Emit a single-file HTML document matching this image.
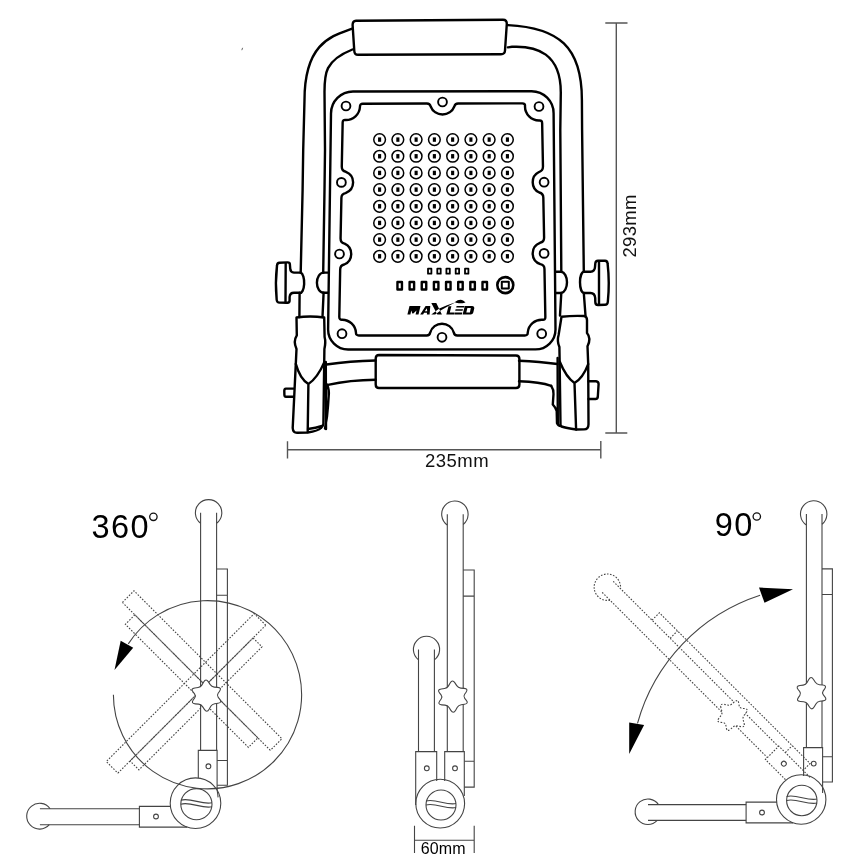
<!DOCTYPE html>
<html><head><meta charset="utf-8"><style>html,body{margin:0;padding:0;background:#fff;width:868px;height:868px;overflow:hidden}svg{display:block;will-change:transform}</style></head>
<body><svg width="868" height="868" viewBox="0 0 868 868"><g fill="none" stroke="#000" stroke-width="2.4" stroke-linecap="round" stroke-linejoin="round"><path d="M356 20.8 L503 19.8 Q507 19.8 506.8 24 L505 50.5 Q504.8 54.2 501 54.2 L358 54.8 Q354.5 54.8 354.3 51 L352.6 25 Q352.6 21 356 20.8 Z"/><path d="M351.5 28.8 C332.5 35.8 304.5 42.3 304.5 100 L303.2 150 L302.6 190 L300.7 272.6"/><path d="M300.7 272.6 A4 10.1 0 0 1 299.6 292.8 L299.4 317"/><path d="M507.9 25.1 C558.4 27.6 581.9 46.6 581.9 100 L582.1 130 L583.8 271.7"/><path d="M583.8 271.7 A4.2 10.7 0 0 0 583.8 293 L585.5 315.5"/><path d="M352.4 49.5 C324.6 60.6 324.5 74 324.5 91.9 L325 150 L324.5 190 L323.2 272.6"/><path d="M323.6 272.6 A6.7 10.1 0 0 0 323.6 292.8 L322.5 317"/><path d="M323.2 272.6 L328 272.6 M323.2 292.8 L328 292.8"/><path d="M507.9 47.4 L512 46.8 C536.9 45.6 560.8 53.7 560.8 92.4 L560.3 130 L561.3 271.7"/><path d="M561.3 271.7 A6.3 10.7 0 0 1 561.3 293 L560 315.5"/><path d="M561.3 271.7 L555.8 271.7 M561.3 293 L555.8 293"/><path d="M353 91.5 L531.6 91.2 A22 22 0 0 1 553.6 113.2 L555.5 329.4 A20 20 0 0 1 535.5 349.4 L348.1 349.5 A20 20 0 0 1 328.1 329.5 L331 113.5 A22 22 0 0 1 353 91.5 Z"/><path d="M362.82 103.76 L426.92 103.55 Q429.92 103.55 430.68 106.45 A12.70 12.70 0 0 0 454.32 106.45 Q455.08 103.55 458.08 103.55 L522.36 103.34 Q525.36 103.34 525.00 106.32 A14.00 14.00 0 0 0 539.18 120.50 Q542.15 120.14 542.15 123.14 L542.97 166.64 Q542.97 170.84 538.96 172.03 A11.40 11.40 0 0 0 539.28 192.53 Q543.33 193.56 543.33 197.76 L544.10 237.80 Q544.10 242.00 540.00 242.76 A11.40 11.40 0 0 0 540.34 264.16 Q544.47 264.80 544.47 269.00 L545.35 317.18 Q545.35 320.18 542.39 319.72 A14.00 14.00 0 0 0 527.75 332.51 Q527.82 335.50 524.82 335.50 L457.29 335.50 Q454.29 335.50 453.81 332.55 A12.30 12.30 0 0 0 430.19 332.55 Q429.71 335.50 426.71 335.50 L358.88 335.50 Q355.88 335.50 355.95 332.51 A14.00 14.00 0 0 0 342.27 319.70 Q339.29 319.97 339.29 316.97 L340.18 269.59 Q340.18 265.39 344.26 264.49 A11.40 11.40 0 0 0 344.61 243.66 Q340.57 242.61 340.57 238.41 L341.40 198.00 Q341.40 193.80 345.52 193.14 A11.40 11.40 0 0 0 345.88 171.80 Q341.78 171.00 341.78 166.80 L342.66 122.59 Q342.66 119.59 345.62 119.99 A14.00 14.00 0 0 0 359.98 106.75 Q359.82 103.76 362.82 103.76 Z"/><circle cx="346" cy="106" r="4.4" stroke-width="1.9"/><circle cx="442.5" cy="102" r="4.4" stroke-width="1.9"/><circle cx="539" cy="106.5" r="4.4" stroke-width="1.9"/><circle cx="341.4" cy="182.4" r="4.4" stroke-width="1.9"/><circle cx="544.1" cy="182.2" r="4.4" stroke-width="1.9"/><circle cx="339.5" cy="254" r="4.4" stroke-width="1.9"/><circle cx="544.1" cy="253.4" r="4.4" stroke-width="1.9"/><circle cx="342" cy="333.7" r="4.4" stroke-width="1.9"/><circle cx="442" cy="337.3" r="4.4" stroke-width="1.9"/><circle cx="541.7" cy="333.7" r="4.4" stroke-width="1.9"/><circle cx="379.60" cy="139.60" r="5.85" stroke-width="1.5"/><rect x="378.05" y="137.40" width="3.1" height="4.4" fill="#000" stroke="none"/><circle cx="397.86" cy="139.60" r="5.85" stroke-width="1.5"/><rect x="396.31" y="137.40" width="3.1" height="4.4" fill="#000" stroke="none"/><circle cx="416.12" cy="139.60" r="5.85" stroke-width="1.5"/><rect x="414.57" y="137.40" width="3.1" height="4.4" fill="#000" stroke="none"/><circle cx="434.38" cy="139.60" r="5.85" stroke-width="1.5"/><rect x="432.83" y="137.40" width="3.1" height="4.4" fill="#000" stroke="none"/><circle cx="452.64" cy="139.60" r="5.85" stroke-width="1.5"/><rect x="451.09" y="137.40" width="3.1" height="4.4" fill="#000" stroke="none"/><circle cx="470.90" cy="139.60" r="5.85" stroke-width="1.5"/><rect x="469.35" y="137.40" width="3.1" height="4.4" fill="#000" stroke="none"/><circle cx="489.16" cy="139.60" r="5.85" stroke-width="1.5"/><rect x="487.61" y="137.40" width="3.1" height="4.4" fill="#000" stroke="none"/><circle cx="507.42" cy="139.60" r="5.85" stroke-width="1.5"/><rect x="505.87" y="137.40" width="3.1" height="4.4" fill="#000" stroke="none"/><circle cx="379.60" cy="156.27" r="5.85" stroke-width="1.5"/><rect x="378.05" y="154.07" width="3.1" height="4.4" fill="#000" stroke="none"/><circle cx="397.86" cy="156.27" r="5.85" stroke-width="1.5"/><rect x="396.31" y="154.07" width="3.1" height="4.4" fill="#000" stroke="none"/><circle cx="416.12" cy="156.27" r="5.85" stroke-width="1.5"/><rect x="414.57" y="154.07" width="3.1" height="4.4" fill="#000" stroke="none"/><circle cx="434.38" cy="156.27" r="5.85" stroke-width="1.5"/><rect x="432.83" y="154.07" width="3.1" height="4.4" fill="#000" stroke="none"/><circle cx="452.64" cy="156.27" r="5.85" stroke-width="1.5"/><rect x="451.09" y="154.07" width="3.1" height="4.4" fill="#000" stroke="none"/><circle cx="470.90" cy="156.27" r="5.85" stroke-width="1.5"/><rect x="469.35" y="154.07" width="3.1" height="4.4" fill="#000" stroke="none"/><circle cx="489.16" cy="156.27" r="5.85" stroke-width="1.5"/><rect x="487.61" y="154.07" width="3.1" height="4.4" fill="#000" stroke="none"/><circle cx="507.42" cy="156.27" r="5.85" stroke-width="1.5"/><rect x="505.87" y="154.07" width="3.1" height="4.4" fill="#000" stroke="none"/><circle cx="379.60" cy="172.94" r="5.85" stroke-width="1.5"/><rect x="378.05" y="170.74" width="3.1" height="4.4" fill="#000" stroke="none"/><circle cx="397.86" cy="172.94" r="5.85" stroke-width="1.5"/><rect x="396.31" y="170.74" width="3.1" height="4.4" fill="#000" stroke="none"/><circle cx="416.12" cy="172.94" r="5.85" stroke-width="1.5"/><rect x="414.57" y="170.74" width="3.1" height="4.4" fill="#000" stroke="none"/><circle cx="434.38" cy="172.94" r="5.85" stroke-width="1.5"/><rect x="432.83" y="170.74" width="3.1" height="4.4" fill="#000" stroke="none"/><circle cx="452.64" cy="172.94" r="5.85" stroke-width="1.5"/><rect x="451.09" y="170.74" width="3.1" height="4.4" fill="#000" stroke="none"/><circle cx="470.90" cy="172.94" r="5.85" stroke-width="1.5"/><rect x="469.35" y="170.74" width="3.1" height="4.4" fill="#000" stroke="none"/><circle cx="489.16" cy="172.94" r="5.85" stroke-width="1.5"/><rect x="487.61" y="170.74" width="3.1" height="4.4" fill="#000" stroke="none"/><circle cx="507.42" cy="172.94" r="5.85" stroke-width="1.5"/><rect x="505.87" y="170.74" width="3.1" height="4.4" fill="#000" stroke="none"/><circle cx="379.60" cy="189.61" r="5.85" stroke-width="1.5"/><rect x="378.05" y="187.41" width="3.1" height="4.4" fill="#000" stroke="none"/><circle cx="397.86" cy="189.61" r="5.85" stroke-width="1.5"/><rect x="396.31" y="187.41" width="3.1" height="4.4" fill="#000" stroke="none"/><circle cx="416.12" cy="189.61" r="5.85" stroke-width="1.5"/><rect x="414.57" y="187.41" width="3.1" height="4.4" fill="#000" stroke="none"/><circle cx="434.38" cy="189.61" r="5.85" stroke-width="1.5"/><rect x="432.83" y="187.41" width="3.1" height="4.4" fill="#000" stroke="none"/><circle cx="452.64" cy="189.61" r="5.85" stroke-width="1.5"/><rect x="451.09" y="187.41" width="3.1" height="4.4" fill="#000" stroke="none"/><circle cx="470.90" cy="189.61" r="5.85" stroke-width="1.5"/><rect x="469.35" y="187.41" width="3.1" height="4.4" fill="#000" stroke="none"/><circle cx="489.16" cy="189.61" r="5.85" stroke-width="1.5"/><rect x="487.61" y="187.41" width="3.1" height="4.4" fill="#000" stroke="none"/><circle cx="507.42" cy="189.61" r="5.85" stroke-width="1.5"/><rect x="505.87" y="187.41" width="3.1" height="4.4" fill="#000" stroke="none"/><circle cx="379.60" cy="206.28" r="5.85" stroke-width="1.5"/><rect x="378.05" y="204.08" width="3.1" height="4.4" fill="#000" stroke="none"/><circle cx="397.86" cy="206.28" r="5.85" stroke-width="1.5"/><rect x="396.31" y="204.08" width="3.1" height="4.4" fill="#000" stroke="none"/><circle cx="416.12" cy="206.28" r="5.85" stroke-width="1.5"/><rect x="414.57" y="204.08" width="3.1" height="4.4" fill="#000" stroke="none"/><circle cx="434.38" cy="206.28" r="5.85" stroke-width="1.5"/><rect x="432.83" y="204.08" width="3.1" height="4.4" fill="#000" stroke="none"/><circle cx="452.64" cy="206.28" r="5.85" stroke-width="1.5"/><rect x="451.09" y="204.08" width="3.1" height="4.4" fill="#000" stroke="none"/><circle cx="470.90" cy="206.28" r="5.85" stroke-width="1.5"/><rect x="469.35" y="204.08" width="3.1" height="4.4" fill="#000" stroke="none"/><circle cx="489.16" cy="206.28" r="5.85" stroke-width="1.5"/><rect x="487.61" y="204.08" width="3.1" height="4.4" fill="#000" stroke="none"/><circle cx="507.42" cy="206.28" r="5.85" stroke-width="1.5"/><rect x="505.87" y="204.08" width="3.1" height="4.4" fill="#000" stroke="none"/><circle cx="379.60" cy="222.95" r="5.85" stroke-width="1.5"/><rect x="378.05" y="220.75" width="3.1" height="4.4" fill="#000" stroke="none"/><circle cx="397.86" cy="222.95" r="5.85" stroke-width="1.5"/><rect x="396.31" y="220.75" width="3.1" height="4.4" fill="#000" stroke="none"/><circle cx="416.12" cy="222.95" r="5.85" stroke-width="1.5"/><rect x="414.57" y="220.75" width="3.1" height="4.4" fill="#000" stroke="none"/><circle cx="434.38" cy="222.95" r="5.85" stroke-width="1.5"/><rect x="432.83" y="220.75" width="3.1" height="4.4" fill="#000" stroke="none"/><circle cx="452.64" cy="222.95" r="5.85" stroke-width="1.5"/><rect x="451.09" y="220.75" width="3.1" height="4.4" fill="#000" stroke="none"/><circle cx="470.90" cy="222.95" r="5.85" stroke-width="1.5"/><rect x="469.35" y="220.75" width="3.1" height="4.4" fill="#000" stroke="none"/><circle cx="489.16" cy="222.95" r="5.85" stroke-width="1.5"/><rect x="487.61" y="220.75" width="3.1" height="4.4" fill="#000" stroke="none"/><circle cx="507.42" cy="222.95" r="5.85" stroke-width="1.5"/><rect x="505.87" y="220.75" width="3.1" height="4.4" fill="#000" stroke="none"/><circle cx="379.60" cy="239.62" r="5.85" stroke-width="1.5"/><rect x="378.05" y="237.42" width="3.1" height="4.4" fill="#000" stroke="none"/><circle cx="397.86" cy="239.62" r="5.85" stroke-width="1.5"/><rect x="396.31" y="237.42" width="3.1" height="4.4" fill="#000" stroke="none"/><circle cx="416.12" cy="239.62" r="5.85" stroke-width="1.5"/><rect x="414.57" y="237.42" width="3.1" height="4.4" fill="#000" stroke="none"/><circle cx="434.38" cy="239.62" r="5.85" stroke-width="1.5"/><rect x="432.83" y="237.42" width="3.1" height="4.4" fill="#000" stroke="none"/><circle cx="452.64" cy="239.62" r="5.85" stroke-width="1.5"/><rect x="451.09" y="237.42" width="3.1" height="4.4" fill="#000" stroke="none"/><circle cx="470.90" cy="239.62" r="5.85" stroke-width="1.5"/><rect x="469.35" y="237.42" width="3.1" height="4.4" fill="#000" stroke="none"/><circle cx="489.16" cy="239.62" r="5.85" stroke-width="1.5"/><rect x="487.61" y="237.42" width="3.1" height="4.4" fill="#000" stroke="none"/><circle cx="507.42" cy="239.62" r="5.85" stroke-width="1.5"/><rect x="505.87" y="237.42" width="3.1" height="4.4" fill="#000" stroke="none"/><circle cx="379.60" cy="256.29" r="5.85" stroke-width="1.5"/><rect x="378.05" y="254.09" width="3.1" height="4.4" fill="#000" stroke="none"/><circle cx="397.86" cy="256.29" r="5.85" stroke-width="1.5"/><rect x="396.31" y="254.09" width="3.1" height="4.4" fill="#000" stroke="none"/><circle cx="416.12" cy="256.29" r="5.85" stroke-width="1.5"/><rect x="414.57" y="254.09" width="3.1" height="4.4" fill="#000" stroke="none"/><circle cx="434.38" cy="256.29" r="5.85" stroke-width="1.5"/><rect x="432.83" y="254.09" width="3.1" height="4.4" fill="#000" stroke="none"/><circle cx="452.64" cy="256.29" r="5.85" stroke-width="1.5"/><rect x="451.09" y="254.09" width="3.1" height="4.4" fill="#000" stroke="none"/><circle cx="470.90" cy="256.29" r="5.85" stroke-width="1.5"/><rect x="469.35" y="254.09" width="3.1" height="4.4" fill="#000" stroke="none"/><circle cx="489.16" cy="256.29" r="5.85" stroke-width="1.5"/><rect x="487.61" y="254.09" width="3.1" height="4.4" fill="#000" stroke="none"/><circle cx="507.42" cy="256.29" r="5.85" stroke-width="1.5"/><rect x="505.87" y="254.09" width="3.1" height="4.4" fill="#000" stroke="none"/><rect x="428.00" y="268.7" width="3.4" height="5.0" stroke-width="1.8"/><rect x="437.30" y="268.7" width="3.4" height="5.0" stroke-width="1.8"/><rect x="446.40" y="268.7" width="3.4" height="5.0" stroke-width="1.8"/><rect x="455.70" y="268.7" width="3.4" height="5.0" stroke-width="1.8"/><rect x="465.00" y="268.7" width="3.4" height="5.0" stroke-width="1.8"/><rect x="397.45" y="281.95" width="4.5" height="7.5" stroke-width="2.4"/><rect x="409.60" y="281.95" width="4.5" height="7.5" stroke-width="2.4"/><rect x="421.75" y="281.95" width="4.5" height="7.5" stroke-width="2.4"/><rect x="433.90" y="281.95" width="4.5" height="7.5" stroke-width="2.4"/><rect x="446.05" y="281.95" width="4.5" height="7.5" stroke-width="2.4"/><rect x="458.20" y="281.95" width="4.5" height="7.5" stroke-width="2.4"/><rect x="470.35" y="281.95" width="4.5" height="7.5" stroke-width="2.4"/><rect x="482.50" y="281.95" width="4.5" height="7.5" stroke-width="2.4"/><circle cx="505.3" cy="285.1" r="8.0" stroke-width="2.6"/><rect x="501.8" y="281.8" width="7.0" height="6.7" stroke-width="2.0"/><path d="M296.5 317.5 Q310 315.5 324.2 317.5 L324.6 337 Q326 342 324.4 349 L324.2 363 L323.4 423.8 Q323.4 426 321 428 Q318 431 307.7 432.5 L297 432.8 Q293 432.8 292.7 428 L295.8 363.9 L296.5 348.9 Q293 341.4 296.8 335.4 Z"/><path d="M325.8 362 L326 429 M327 384.5 Q329.5 390 328.7 396 L328 406 Q327.5 416 325 428.5 M308 429 Q316 428 322 426"/><path d="M295.8 363.9 Q300 379 308.4 384 Q317.5 378 324.2 362.4 M308.4 384 L307.7 432"/><path d="M293.5 388.6 L286 388.6 Q284.2 388.8 284.3 391 L284.4 395 Q284.5 396.8 286 396.8 L293.5 396.8"/><path d="M561.5 316.7 Q573 315.5 584 316 Q587 316.5 587 320 L587 333 Q591.5 338.4 587.5 346.2 L588.2 364 L588.5 424.3 Q588.5 429.4 584 429.4 L576.1 429.5 Q566 428 561.5 426.5 Q560.5 425.5 560.5 424.7 L559.6 357.9 L559.4 347 Q556.8 341 558.6 335 Z"/><path d="M557.6 358 L557.8 424 M551.2 385.8 Q554 390 553.5 394 L552.8 404.5 Q556 408 556.7 411 L557 423.1 Q558 426 561 426"/><path d="M559.8 361.7 Q566 377 574.5 383 Q583 378 588.2 364.1 M574.5 383 L576.1 429.5"/><path d="M588.5 381.2 L596 381.2 Q598.6 381.5 598.6 384 L597.8 397 Q597.5 399 595.5 399 L588.5 399"/><path d="M326.5 364.5 Q350 361 375.6 360.5 M327.9 384.9 Q350 380 375.6 379.8"/><path d="M519 360.7 Q540 361.5 557.4 364 M519 381.3 Q540 382 551.2 385.8"/><path d="M379 355 L516 355.5 Q519.4 355.5 519.4 359 L519.4 384.5 Q519.4 388 516 388 L379 388 Q375.7 388 375.7 384.5 L375.7 358.5 Q375.7 355 379 355 Z"/><path d="M300.7 272.6 L294 272.6 Q290.4 272.3 290.2 268.5 L289.9 264.5 Q289.8 262.3 287.5 262.4 L279.5 262.8 Q277.2 263 277 265.5 Q275 282.7 276.7 300 Q277 302.6 279.5 302.6 L287.5 302.8 Q289.6 302.6 289.6 300.5 L289.6 297 Q290 292.8 294 292.8 L299.6 292.8"/><path d="M285.7 263.2 L285.5 302.4"/><path d="M583.8 271.7 L590.5 271.7 Q594.8 271.5 595 267 L595.3 263.5 Q595.5 260.7 598 260.7 L605 260.8 Q607.4 261 607.6 263.5 Q609.8 282.7 607.8 302 Q607.5 304.8 605 304.8 L598 305 Q595.3 305 595.3 302 L595.2 298 Q594.8 293 590.5 293 L583.8 293"/><path d="M599 261.5 L599 304.3"/></g><path fill="#000" fill-rule="evenodd" d="M407.4 314.4 L409.5 305.9 L420.5 305.9 L418.5 314.4 L415.6 314.4 L416.5 310.4 L413.3 313.6 L412.3 313.6 L411.3 310.4 L410.4 314.4 Z M420.2 314.4 L425.6 305.9 L430.3 305.9 L429.6 314.4 L426.9 314.4 L427 312.8 L424.1 312.8 L423.1 314.4 Z M424.8 311.3 L426.9 308.2 L427.2 311.3 Z M431.3 303.1 L436.3 303.1 L441.9 314.6 L437.3 314.6 Z M431.3 314.6 L435.2 314.6 L441 310.2 L448 306.3 L455.6 302.3 L447 305.2 L439.3 308.4 Z M448.5 306.2 L451.4 306.2 L449.8 312.4 L454.6 312.4 L454.1 314.4 L446.3 314.4 Z M456.6 306 L464.4 306 L464 307.6 L456.2 307.6 Z M455.6 309.2 L463 309.2 L462.6 310.8 L455.2 310.8 Z M454.9 312.5 L462.3 312.5 L461.8 314.4 L454.4 314.4 Z M464.8 306 L472.4 306 Q474.7 306.2 474.3 308.3 L473.3 312.4 Q472.8 314.4 470.7 314.4 L462.6 314.4 Z M467.4 307.9 L470.8 307.9 L469.9 312.4 L466.3 312.4 Z M455 301.9 Q458.5 299.1 462 299.9 Q464 300.7 465.5 302.4 Q461 303.7 457.5 303.1 Q455.6 302.6 455 301.9 Z"/><path d="M242.6 47.8 L241.8 50.2" stroke="#666" stroke-width="1" fill="none"/><path d="M605.3 23 L627.5 23 M616.3 23 L616.3 433 M605.3 433 L627.3 433" fill="none" stroke="#555" stroke-width="1.4"/><path d="M287.5 441.2 L287.5 458.4 M287.5 449.8 L600.8 449.8 M600.8 441 L600.8 458.6" fill="none" stroke="#555" stroke-width="1.4"/><text x="425" y="466.7" font-size="18.5" letter-spacing="0.5" font-family="Liberation Sans" fill="#111">235mm</text><text transform="translate(636.2 257.5) rotate(-90)" font-size="18.5" font-family="Liberation Sans" fill="#111" letter-spacing="0.3">293mm</text><g fill="none" stroke="#444" stroke-width="1.1"><circle cx="207.4" cy="695.6" r="94.1" stroke-dasharray="none" style="display:none"/><path d="M113.4 694.8 A94.1 94.1 0 1 0 128.3 643.9"/><path d="M120.7 640.8 L133.2 647.7 L114.5 669.9 Z" fill="#000" stroke="none"/><path d="M122.40 602.40 L134.00 590.80 L281.92 738.73 L270.33 750.33 M270.33 750.33 L122.40 602.40 M134.85 614.85 L125.37 624.32 L248.41 747.36 L257.88 737.88" stroke-dasharray="1.6 1.5"/><path d="M134.85 614.85 L257.88 737.88" stroke-dasharray="1.6 1.5" stroke-dashoffset="0.8"/><path d="M265.80 625.20 L254.20 613.60 L106.28 761.53 L117.87 773.13 M117.87 773.13 L265.80 625.20 M253.07 637.93 L261.98 646.84 L138.95 769.87 L130.04 760.96" stroke-dasharray="1.6 1.5"/><path d="M253.07 637.93 L130.04 760.96" stroke-dasharray="1.6 1.5" stroke-dashoffset="0.8"/><path d="M200.60 523.30 A13.20 13.20 0 1 1 216.60 523.30"/><path d="M200.6 512.8 L200.6 750.4 M216.6 512.8 L216.6 750.4"/><path d="M216.6 569 L227.4 569 L227.4 785.3 L217.1 785.3 M216.6 595.2 L227.4 595.2 M217.1 760.5 L227.4 760.5"/><path d="M198.3 778.1 L198.3 750.4 L217.1 750.4 L217.1 790 Q217.8 794 218.1 797.4"/><circle cx="208.4" cy="766.3" r="2.4"/><circle cx="195.50" cy="803.20" r="25.30"/><circle cx="196.40" cy="804.20" r="15.60"/><path d="M180.80 800.20 C190.40 797.20 202.40 805.20 212.00 802.70"/><path d="M180.80 804.20 C190.40 801.20 202.40 809.20 212.00 806.70"/><path d="M50.10 808.70 A12.90 12.90 0 1 0 49.30 824.70"/><path d="M39.9 808.7 L139.4 808.7 M39.9 824.7 L139.4 824.7"/><path d="M170.4 806.4 L139.4 806.4 L139.4 827.1 L187.2 827.1"/><circle cx="156" cy="816.5" r="2.4"/><path d="M203.65 682.00 Q205.94 678.01 208.43 681.87 L210.24 684.67 Q211.65 686.86 214.24 687.08 L217.57 687.36 Q222.15 687.75 219.43 691.46 L218.13 693.24 Q216.60 695.33 218.24 697.35 L219.63 699.05 Q222.54 702.62 217.98 703.25 L214.68 703.70 Q212.10 704.06 210.81 706.31 L209.15 709.20 Q206.86 713.19 204.37 709.33 L202.56 706.53 Q201.15 704.34 198.56 704.12 L195.23 703.84 Q190.65 703.45 193.37 699.74 L194.67 697.96 Q196.20 695.87 194.56 693.85 L193.17 692.15 Q190.26 688.58 194.82 687.95 L198.12 687.50 Q200.70 687.14 201.99 684.89 Z" fill="#fff"/></g><text x="91.5" y="537.5" font-size="32.5" letter-spacing="1.4" font-family="Liberation Sans" fill="#000">360</text><circle cx="153.4" cy="516.8" r="3.7" fill="none" stroke="#111" stroke-width="1.3"/><g fill="none" stroke="#444" stroke-width="1.1"><path d="M447.30 524.99 A13.20 13.20 0 1 1 463.20 524.46"/><path d="M447.3 514.2 L447.3 751.6 M463.2 514.2 L463.2 751.6"/><path d="M463.2 570 L474.2 570 L474.2 787.1 L464.3 787.1 M463.2 596.1 L474.2 596.1 M464.3 761.3 L474.2 761.3"/><path d="M418.50 659.77 A13.10 13.10 0 1 1 434.40 659.85"/><path d="M418.5 649.4 L418.5 751.6 M434.4 649.4 L434.4 751.6"/><path d="M415.7 805 L415.7 751.6 L436.7 751.6 L436.7 781"/><path d="M444.7 781 L444.7 751.6 L464.3 751.6 L464.3 796"/><circle cx="426.8" cy="768.3" r="2.4"/><circle cx="455" cy="768.3" r="2.4"/><circle cx="440.20" cy="803.60" r="24.40"/><circle cx="441.00" cy="805.00" r="15.00"/><path d="M426.00 801.00 C435.00 798.00 447.00 806.00 456.00 803.50"/><path d="M426.00 805.00 C435.00 802.00 447.00 810.00 456.00 807.50"/><path d="M450.15 683.00 Q452.44 679.01 454.93 682.87 L456.74 685.67 Q458.15 687.86 460.74 688.08 L464.07 688.36 Q468.65 688.75 465.93 692.46 L464.63 694.24 Q463.10 696.33 464.74 698.35 L466.13 700.05 Q469.04 703.62 464.48 704.25 L461.18 704.70 Q458.60 705.06 457.31 707.31 L455.65 710.20 Q453.36 714.19 450.87 710.33 L449.06 707.53 Q447.65 705.34 445.06 705.12 L441.73 704.84 Q437.15 704.45 439.87 700.74 L441.17 698.96 Q442.70 696.87 441.06 694.85 L439.67 693.15 Q436.76 689.58 441.32 688.95 L444.62 688.50 Q447.20 688.14 448.49 685.89 Z" fill="#fff"/></g><path d="M414.5 825.8 L414.5 853.1 M474.2 825.8 L474.2 853.1 M414.5 840.3 L474.2 840.3" fill="none" stroke="#444" stroke-width="1.1"/><text x="420.8" y="854" font-size="16" letter-spacing="0.1" font-family="Liberation Sans" fill="#000">60mm</text><g fill="none" stroke="#444" stroke-width="1.1"><path d="M760.1 595.2 A187.5 187.5 0 0 0 637.5 723.3"/><path d="M759 587.5 L793 589.3 L764.5 602.8 Z M629.2 722.6 L644.1 725 L629.2 753.9 Z" fill="#000" stroke="none"/><g transform="rotate(-45 798.9 799.7)" stroke-dasharray="1.6 1.5"><path d="M806.40 525.00 A13.20 13.20 0 1 1 822.00 524.26"/><path d="M806.4 514 L806.4 747.6 M822 514 L822 747.6"/><path d="M822 568.9 L832.4 568.9 L832.4 782 L822.6 782 M822 594.5 L832.4 594.5 M822.6 756.8 L832.4 756.8"/><path d="M803.6 776 L803.6 747.6 L822.6 747.6 L822.6 793"/><circle cx="813.7" cy="763.6" r="2.4" stroke-dasharray="none"/><path d="M808.75 679.60 Q811.04 675.61 813.53 679.47 L815.34 682.27 Q816.75 684.46 819.34 684.68 L822.67 684.96 Q827.25 685.35 824.53 689.06 L823.23 690.84 Q821.70 692.93 823.34 694.95 L824.73 696.65 Q827.64 700.22 823.08 700.85 L819.78 701.30 Q817.20 701.66 815.91 703.91 L814.25 706.80 Q811.96 710.79 809.47 706.93 L807.66 704.13 Q806.25 701.94 803.66 701.72 L800.33 701.44 Q795.75 701.05 798.47 697.34 L799.77 695.56 Q801.30 693.47 799.66 691.45 L798.27 689.75 Q795.36 686.18 799.92 685.55 L803.22 685.10 Q805.80 684.74 807.09 682.49 Z" fill="#fff"/></g><path d="M806.40 525.00 A13.20 13.20 0 1 1 822.00 524.26"/><path d="M806.4 514 L806.4 747.6 M822 514 L822 747.6"/><path d="M822 568.9 L832.4 568.9 L832.4 782 L822.6 782 M822 594.5 L832.4 594.5 M822.6 756.8 L832.4 756.8"/><path d="M803.6 776 L803.6 747.6 L822.6 747.6 L822.6 793"/><circle cx="813.7" cy="763.6" r="2.4" stroke-dasharray="none"/><path d="M808.75 679.60 Q811.04 675.61 813.53 679.47 L815.34 682.27 Q816.75 684.46 819.34 684.68 L822.67 684.96 Q827.25 685.35 824.53 689.06 L823.23 690.84 Q821.70 692.93 823.34 694.95 L824.73 696.65 Q827.64 700.22 823.08 700.85 L819.78 701.30 Q817.20 701.66 815.91 703.91 L814.25 706.80 Q811.96 710.79 809.47 706.93 L807.66 704.13 Q806.25 701.94 803.66 701.72 L800.33 701.44 Q795.75 701.05 798.47 697.34 L799.77 695.56 Q801.30 693.47 799.66 691.45 L798.27 689.75 Q795.36 686.18 799.92 685.55 L803.22 685.10 Q805.80 684.74 807.09 682.49 Z" fill="#fff"/><circle cx="801.20" cy="799.50" r="24.70"/><circle cx="801.80" cy="800.50" r="15.20"/><path d="M786.60 796.50 C795.80 793.50 807.80 801.50 817.00 799.00"/><path d="M786.60 800.50 C795.80 797.50 807.80 805.50 817.00 803.00"/><path d="M658.49 804.60 A12.75 12.75 0 1 0 657.22 820.40"/><path d="M648 804.6 L746.1 804.6 M648 820.4 L746.1 820.4"/><path d="M777 802.1 L746.1 802.1 L746.1 822.9 L793 822.9"/><circle cx="762" cy="812.5" r="2.4"/></g><text x="714.7" y="536.4" font-size="32.5" letter-spacing="1.5" font-family="Liberation Sans" fill="#000">90</text><circle cx="756.8" cy="516.5" r="3.7" fill="none" stroke="#111" stroke-width="1.3"/></svg></body></html>
